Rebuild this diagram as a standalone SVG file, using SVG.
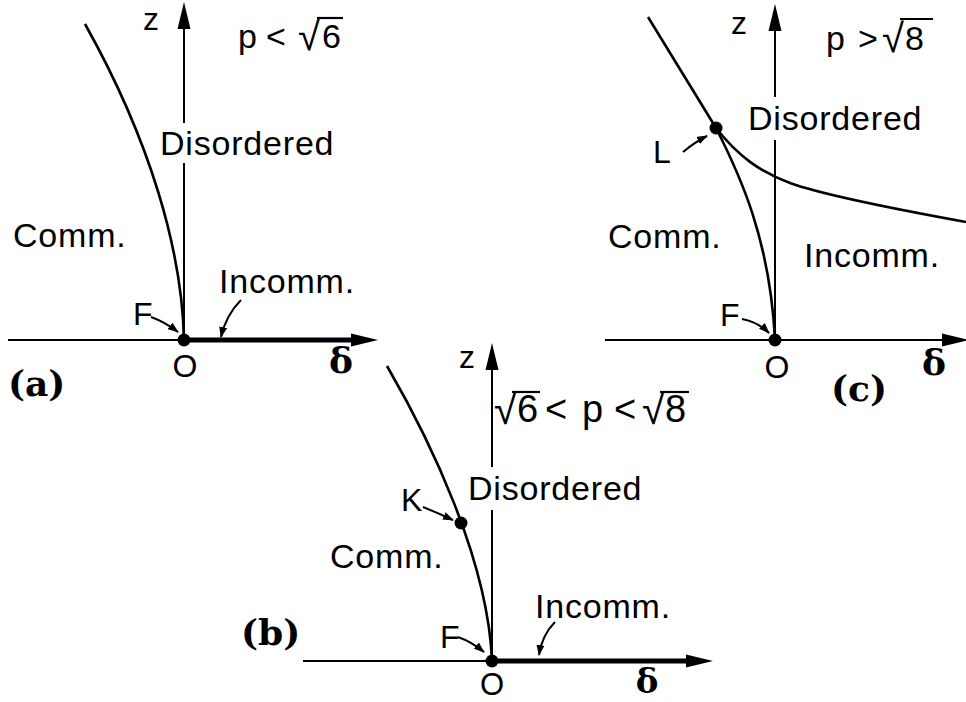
<svg xmlns="http://www.w3.org/2000/svg" width="966" height="702" viewBox="0 0 966 702">
<style>
.ax{stroke:#000;stroke-width:2;fill:none}
.thick{stroke:#000;stroke-width:5;fill:none}
.cv{stroke:#000;stroke-width:2.6;fill:none}
.la{stroke:#000;stroke-width:2;fill:none}
.t{font-family:"Liberation Sans",Arial,sans-serif;font-size:34px;fill:#000;letter-spacing:0.8px}
.s{font-family:"Liberation Sans",Arial,sans-serif;font-size:32px;fill:#000}
.z{font-family:"Liberation Sans",Arial,sans-serif;font-size:32px;fill:#000}
.p{font-family:"Liberation Sans",Arial,sans-serif;font-size:34px;fill:#000}
.pb{font-family:"Liberation Sans",Arial,sans-serif;font-size:38px;fill:#000}
.r{font-size:40px}
.rb{font-size:41px}
.d{font-family:"DejaVu Serif","Liberation Serif",serif;font-weight:bold;font-size:36px;fill:#000}
.pl{font-family:"DejaVu Serif","Liberation Serif",serif;font-weight:bold;font-size:36px;fill:#000}
.bar{stroke:#000;stroke-width:2.2}
</style>
<defs>
<marker id="ah" markerUnits="userSpaceOnUse" markerWidth="28" markerHeight="14" refX="0" refY="7" orient="auto"><path d="M0,0.5 L27,7 L0,13.5 Z" fill="#000"/></marker>
<marker id="sa" markerUnits="userSpaceOnUse" markerWidth="12" markerHeight="8" refX="10" refY="4" orient="auto"><path d="M0,0 L11,4 L0,8 Z" fill="#000"/></marker>
</defs>
<rect width="966" height="702" fill="#fff"/>

<!-- Panel (a) -->
<g id="panel-a">
  <g id="a-axes">
    <line class="ax" x1="8" y1="340" x2="184" y2="340"/>
    <line class="thick" x1="184" y1="340" x2="351" y2="340" marker-end="url(#ah)"/>
    <line class="ax" x1="184" y1="340" x2="184" y2="163"/>
    <line class="ax" x1="184" y1="123" x2="184" y2="29" marker-end="url(#ah)"/>
  </g>
  <path id="a-curve" class="cv" d="M85,24 C150,140 182,250 184,340"/>
  <circle id="a-F" cx="184" cy="340" r="6.5" fill="#000"/>
  <text class="z" x="143" y="30">z</text>
  <g id="a-cond">
    <text class="p" x="238" y="48">p<tspan x="266">&lt;</tspan><tspan class="r" x="298" y="50">√</tspan><tspan x="322" y="48">6</tspan></text>
    <line class="bar" x1="317" y1="18" x2="343" y2="18"/>
  </g>
  <text class="t" x="160" y="155">Disordered</text>
  <text class="t" x="13" y="247">Comm.</text>
  <text class="t" x="219" y="293">Incomm.</text>
  <text class="s" x="133" y="325">F</text>
  <text class="s" x="185" y="377" text-anchor="middle">O</text>
  <text class="d" x="341" y="373" text-anchor="middle">δ</text>
  <text class="pl" x="8" y="396">(a)</text>
</g>

<!-- Panel (b) -->
<g id="panel-b">
  <g id="b-axes">
    <line class="ax" x1="303" y1="661" x2="492" y2="661"/>
    <line class="thick" x1="492" y1="661" x2="686" y2="661" marker-end="url(#ah)"/>
    <line class="ax" x1="492" y1="661" x2="492" y2="510"/>
    <line class="ax" x1="492" y1="467" x2="492" y2="370" marker-end="url(#ah)"/>
  </g>
  <path id="b-curve" class="cv" d="M387,366 C430,440 488,560 492,661"/>
  <circle id="b-K" cx="461" cy="523" r="6.5" fill="#000"/>
  <circle id="b-F" cx="492" cy="661" r="6.5" fill="#000"/>
  <text class="z" x="459" y="368">z</text>
  <g id="b-cond">
    <text class="pb" x="494" y="424"><tspan class="rb">√</tspan><tspan x="517" y="422">6</tspan><tspan x="545">&lt;</tspan><tspan x="582">p</tspan><tspan x="614">&lt;</tspan><tspan class="rb" x="642" y="424">√</tspan><tspan x="665" y="422">8</tspan></text>
    <line class="bar" x1="512" y1="392" x2="540" y2="392"/>
    <line class="bar" x1="660" y1="392" x2="689" y2="392"/>
  </g>
  <text class="t" x="468" y="500">Disordered</text>
  <text class="t" x="330" y="568">Comm.</text>
  <text class="t" x="535" y="618">Incomm.</text>
  <text class="s" x="401" y="511">K</text>
  <text class="s" x="440" y="648">F</text>
  <text class="s" x="492" y="695" text-anchor="middle" style="font-size:31px">O</text>
  <text class="d" x="647" y="693" text-anchor="middle" style="font-size:34px">δ</text>
  <text class="pl" x="241" y="645">(b)</text>
</g>

<!-- Panel (c) -->
<g id="panel-c">
  <g id="c-axes">
    <line class="ax" x1="605" y1="340" x2="942" y2="340" marker-end="url(#ah)"/>
    <line class="ax" x1="775" y1="340" x2="775" y2="140"/>
    <line class="ax" x1="775" y1="97" x2="775" y2="31" marker-end="url(#ah)"/>
  </g>
  <path id="c-curve1" class="cv" d="M648,17 L716,128 C740,175 770,240 775,340"/>
  <path id="c-curve2" class="cv" d="M716,128 C738,156 760,172 790,183 S900,210 966,222"/>
  <circle id="c-L" cx="716" cy="128" r="6.5" fill="#000"/>
  <circle id="c-F" cx="775" cy="340" r="6.5" fill="#000"/>
  <text class="z" x="731" y="34">z</text>
  <g id="c-cond">
    <text class="p" x="826" y="50">p<tspan x="858">&gt;</tspan><tspan class="r" x="882" y="52">√</tspan><tspan x="905" y="50">8</tspan></text>
    <line class="bar" x1="900" y1="19" x2="933" y2="19"/>
  </g>
  <text class="t" x="748" y="130">Disordered</text>
  <text class="t" x="608" y="248">Comm.</text>
  <text class="t" x="804" y="267">Incomm.</text>
  <text class="s" x="653" y="163">L</text>
  <text class="s" x="720" y="326">F</text>
  <text class="s" x="777" y="378" text-anchor="middle">O</text>
  <text class="d" x="934" y="375" text-anchor="middle">δ</text>
  <text class="pl" x="831" y="401">(c)</text>
</g>

<!-- label pointer arrows -->
<g id="connectors">
  <path class="la" d="M151,317 Q165,322 178,332" marker-end="url(#sa)"/>
  <path class="la" d="M241,300 Q226,315 221,337" marker-end="url(#sa)"/>
  <path class="la" d="M458,637 Q472,642 484,652" marker-end="url(#sa)"/>
  <path class="la" d="M555,622 Q542,635 539,655" marker-end="url(#sa)"/>
  <path class="la" d="M423,507 Q438,513 453,520" marker-end="url(#sa)"/>
  <path class="la" d="M683,152 Q695,142 707,136" marker-end="url(#sa)"/>
  <path class="la" d="M742,319 Q758,322 769,333" marker-end="url(#sa)"/>
</g>
</svg>
